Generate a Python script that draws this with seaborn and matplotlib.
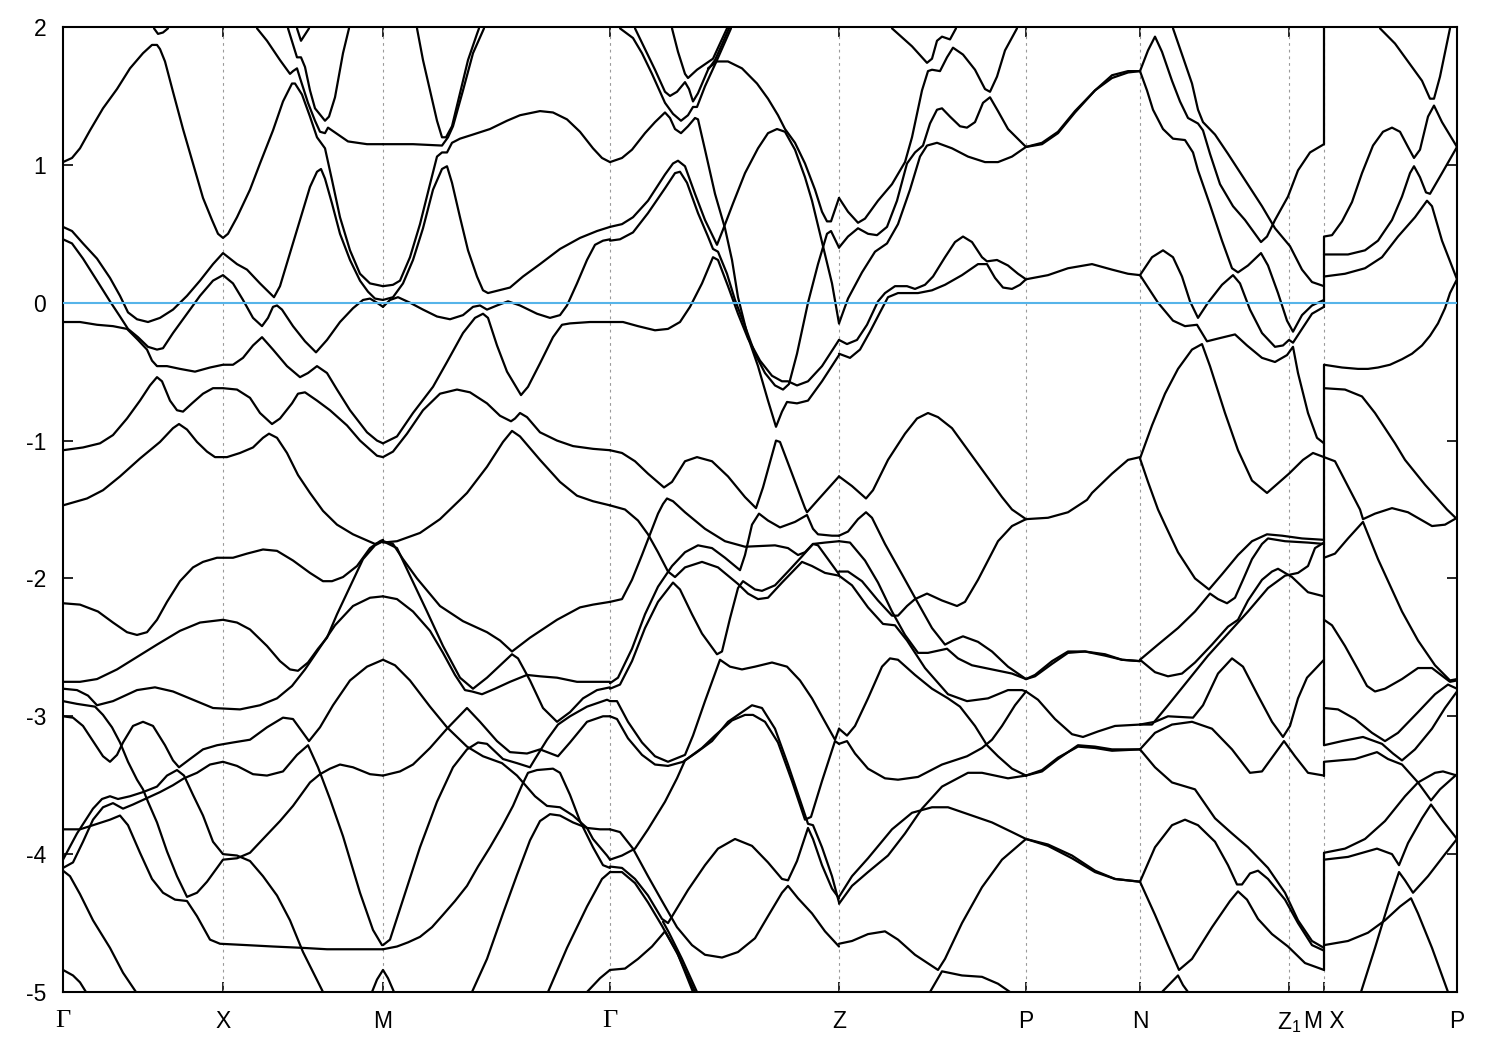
"""Structure de bandes le long du chemin Gamma-X-M-Gamma-Z-P-N-Z1-M|X-P."""

import matplotlib
matplotlib.use("Agg")
import matplotlib.pyplot as plt
import pandas as pd
import seaborn as sns

# positions des points de haute symétrie sur le chemin
tick_k = [0, 160, 320, 547, 776, 963, 1077, 1226, 1261, 1394]
tick_labels = ["Γ", "X", "M", "Γ", "Z", "P", "N", "Z$_1$", "M X", "P"]
y_ticks = [2, 1, 0, -1, -2, -3, -4, -5]

# --- Γ -> X -> M
b_gx01_k = [0,9,17,27,40,54,67,80,89,94,97,102,110,120,130,140,149,155,160,165,174,187,197,210,220,229,232,239,247,254,262,269,277,287,297,307,320]
b_gx01_e = [1.02,1.05,1.12,1.25,1.41,1.55,1.70,1.81,1.87,1.87,1.84,1.75,1.53,1.26,1.01,.76,.60,.50,.47,.50,.62,.82,1.01,1.25,1.46,1.59,1.59,1.51,1.35,1.20,1.12,.89,.62,.38,.21,.14,.12]
b_gx02_k = [194,204,217,227,230,234,237,245,252,257,262,265,275,285,304,320]
b_gx02_e = [1.99,1.90,1.76,1.66,1.68,1.70,1.63,1.45,1.32,1.24,1.23,1.27,1.22,1.17,1.15,1.15]
b_gx03_k = [225,234,238,242,247,252,262,266,272,280,286]
b_gx03_e = [1.99,1.78,1.78,1.71,1.54,1.41,1.32,1.35,1.49,1.81,1.99]
b_gx04_k = [234,238,246]
b_gx04_e = [1.99,1.90,1.99]
b_gx05_k = [91,95,100,105]
b_gx05_e = [1.99,1.95,1.96,1.99]
b_gx06_k = [0,9,20,34,47,57,65,74,85,97,110,124,137,150,160,174,184,197,211,217,227,237,247,254,258,262,269,277,287,297,305,312,320]
b_gx06_e = [.55,.52,.43,.32,.18,.05,-.07,-.12,-.14,-.11,-.05,.05,.16,.28,.36,.28,.24,.14,.04,.12,.36,.60,.84,.95,.97,.90,.72,.50,.31,.16,.08,.03,.02]
b_gx07_k = [0,9,20,34,47,57,65,75,85,94,100,110,124,137,150,160,170,180,190,199,205,210,214,219,230,242,253,264,277,290,300,307,314,320]
b_gx07_e = [.46,.43,.32,.16,.01,-.10,-.19,-.25,-.32,-.34,-.33,-.22,-.08,.05,.16,.20,.14,.02,-.11,-.17,-.11,-.03,-.02,-.05,-.17,-.28,-.36,-.27,-.14,-.04,.02,.03,.0,-.03]
b_gx08_k = [0,17,34,50,64,75,84,89,94,104,117,132,147,160,170,180,190,199,210,224,237,245,254,264,274,287,304,314,320]
b_gx08_e = [-.14,-.14,-.16,-.17,-.19,-.27,-.34,-.42,-.46,-.46,-.48,-.50,-.47,-.45,-.45,-.40,-.31,-.25,-.34,-.46,-.54,-.51,-.46,-.51,-.63,-.78,-.94,-1.00,-1.02]
b_gx09_k = [0,20,37,50,64,77,87,94,99,107,114,120,129,140,150,160,174,187,197,209,217,229,235,242,254,267,284,297,314,320]
b_gx09_e = [-1.07,-1.05,-1.02,-.96,-.84,-.71,-.60,-.54,-.57,-.71,-.78,-.79,-.73,-.66,-.62,-.62,-.63,-.69,-.80,-.88,-.84,-.73,-.66,-.65,-.71,-.78,-.89,-1.0,-1.11,-1.12]
b_gx10_k = [0,24,40,57,77,97,110,116,124,134,144,152,164,177,190,200,206,214,224,235,247,260,274,290,312,320]
b_gx10_e = [-1.47,-1.42,-1.36,-1.26,-1.13,-1.01,-.91,-.88,-.92,-1.01,-1.08,-1.12,-1.12,-1.09,-1.05,-.98,-.95,-.98,-1.09,-1.25,-1.38,-1.51,-1.61,-1.68,-1.75,-1.73]
b_gx11_k = [0,17,35,50,64,74,84,94,104,117,130,140,154,170,184,200,214,230,247,260,269,280,294,307,317,320]
b_gx11_e = [-2.18,-2.19,-2.24,-2.32,-2.39,-2.41,-2.39,-2.30,-2.17,-2.02,-1.92,-1.88,-1.85,-1.85,-1.82,-1.79,-1.80,-1.87,-1.96,-2.02,-2.02,-1.99,-1.91,-1.78,-1.73,-1.72]
b_gx12_k = [0,17,34,54,74,94,117,137,160,174,187,204,217,227,235,245,255,264,274,287,300,312,320]
b_gx12_e = [-2.75,-2.75,-2.73,-2.66,-2.57,-2.48,-2.38,-2.32,-2.30,-2.32,-2.37,-2.49,-2.60,-2.66,-2.67,-2.61,-2.51,-2.43,-2.26,-2.06,-1.86,-1.76,-1.73]
b_gx13_k = [0,14,25,34,50,74,92,110,130,150,177,197,214,229,242,257,272,290,307,320]
b_gx13_e = [-2.80,-2.81,-2.85,-2.92,-2.89,-2.81,-2.79,-2.82,-2.88,-2.94,-2.95,-2.92,-2.87,-2.78,-2.66,-2.50,-2.34,-2.20,-2.14,-2.13]
b_gx14_k = [0,14,32,40,49,57,65,74,80,85,94,104,114,124,134,144,154,160,174,187,200,217,230,247,257,267,277,290,307,320]
b_gx14_e = [-2.89,-2.91,-2.93,-2.99,-3.08,-3.19,-3.33,-3.46,-3.53,-3.62,-3.77,-3.98,-4.16,-4.31,-4.28,-4.20,-4.10,-4.04,-4.03,-3.99,-3.89,-3.76,-3.65,-3.48,-3.42,-3.38,-3.35,-3.37,-3.42,-3.43]
b_gx15_k = [0,10,20,30,40,47,54,60,70,80,90,102,110,116,127,140,154,170,187,204,220,230,239,246,257,270,287,304,320]
b_gx15_e = [-3.0,-3.01,-3.07,-3.18,-3.29,-3.33,-3.28,-3.19,-3.07,-3.04,-3.07,-3.21,-3.32,-3.37,-3.31,-3.24,-3.21,-3.19,-3.17,-3.08,-3.01,-3.02,-3.11,-3.18,-3.08,-2.92,-2.74,-2.64,-2.59]
b_gx16_k = [0,14,30,39,47,55,67,80,94,104,114,121,130,140,150,160,174,187,200,214,227,240,260]
b_gx16_e = [-4.04,-3.85,-3.67,-3.60,-3.58,-3.60,-3.58,-3.55,-3.51,-3.43,-3.39,-3.43,-3.57,-3.72,-3.91,-4.0,-4.01,-4.05,-4.16,-4.30,-4.48,-4.71,-5.0]
b_gx17_k = [0,10,20,30,40,50,60,70,82,97,110,121,134,147,160,174,190,204,220,234,245,255,267,280,297,310,319]
b_gx17_e = [-4.10,-4.06,-3.91,-3.75,-3.66,-3.63,-3.67,-3.64,-3.60,-3.55,-3.50,-3.45,-3.41,-3.35,-3.33,-3.36,-3.42,-3.43,-3.40,-3.28,-3.21,-3.37,-3.60,-3.87,-4.28,-4.55,-4.66]
b_gx18_k = [0,17,30,47,57,65,77,89,100,112,124,134,147,157,184,210,240,264,297,320]
b_gx18_e = [-3.82,-3.82,-3.79,-3.75,-3.72,-3.79,-3.99,-4.18,-4.28,-4.33,-4.34,-4.45,-4.62,-4.65,-4.66,-4.67,-4.68,-4.69,-4.69,-4.69]
b_gx19_k = [0,7,17,30,47,60,73]
b_gx19_e = [-4.12,-4.16,-4.29,-4.48,-4.68,-4.86,-5.0]
b_gx20_k = [0,10,17,23]
b_gx20_e = [-4.84,-4.88,-4.93,-5.0]
b_gx21_k = [309,314,320,325,331]
b_gx21_e = [-5.0,-4.91,-4.84,-4.90,-5.0]

# --- M -> Γ
b_mg01_k = [354,360,367,374,379,383,389,397,405,414,416]
b_mg01_e = [1.99,1.76,1.54,1.32,1.20,1.20,1.28,1.52,1.76,1.95,1.99]
b_mg02_k = [320,350,379,385,390,400,410,421]
b_mg02_e = [1.15,1.15,1.14,1.20,1.28,1.54,1.81,1.99]
b_mg03_k = [320,330,337,347,357,367,374,379,384,389,397,410,427,444,457,477,490,504,517,530,539,547]
b_mg03_e = [.12,.13,.16,.33,.57,.86,1.06,1.09,1.09,1.16,1.19,1.22,1.26,1.32,1.36,1.39,1.38,1.33,1.24,1.12,1.05,1.02]
b_mg04_k = [320,330,340,350,360,370,379,384,389,397,405,414,420,425,447,460,477,497,517,534,547]
b_mg04_e = [.02,.04,.14,.31,.54,.82,.97,.99,.87,.62,.38,.19,.09,.07,.11,.19,.28,.39,.47,.52,.55]
b_mg05_k = [320,327,335,347,360,374,387,400,410,417,424,434,445,457,474,487,497,504,514,524,532,540,547]
b_mg05_e = [-.03,.02,.04,0,-.05,-.10,-.12,-.09,-.03,-.02,-.05,-.02,.01,-.02,-.08,-.11,-.09,-.02,.14,.31,.42,.45,.46]
b_mg06_k = [320,334,350,370,384,400,412,420,425,434,444,458,465,477,490,499,507,527,547]
b_mg06_e = [-1.02,-.97,-.80,-.61,-.43,-.22,-.11,-.08,-.11,-.31,-.50,-.67,-.61,-.44,-.25,-.16,-.15,-.14,-.14]
b_mg07_k = [320,330,344,360,377,394,407,424,437,448,452,457,464,477,494,510,530,547]
b_mg07_e = [-1.12,-1.08,-.95,-.78,-.66,-.63,-.65,-.73,-.82,-.86,-.84,-.80,-.83,-.94,-1.0,-1.04,-1.06,-1.07]
b_mg08_k = [320,334,357,377,397,404,424,440,449,457,477,497,514,530,547]
b_mg08_e = [-1.74,-1.73,-1.67,-1.57,-1.43,-1.38,-1.19,-1.01,-.93,-.97,-1.14,-1.30,-1.40,-1.44,-1.47]
b_mg09_k = [320,330,340,354,377,400,424,437,449,467,494,517,530,547]
b_mg09_e = [-1.73,-1.75,-1.86,-2.0,-2.20,-2.31,-2.39,-2.45,-2.53,-2.43,-2.30,-2.21,-2.19,-2.17]
b_mg10_k = [320,334,347,364,380,397,410,424,449,455,467,480,494,507,520,534,547]
b_mg10_e = [-1.73,-1.78,-1.98,-2.24,-2.49,-2.72,-2.80,-2.72,-2.55,-2.58,-2.74,-2.94,-3.04,-2.97,-2.87,-2.81,-2.79]
b_mg11_k = [320,334,350,367,380,392,402,409,419,432,447,464,477,494,514,537,547]
b_mg11_e = [-2.13,-2.15,-2.24,-2.38,-2.54,-2.70,-2.81,-2.82,-2.84,-2.80,-2.75,-2.70,-2.71,-2.72,-2.75,-2.75,-2.75]
b_mg12_k = [320,332,347,367,384,404,420,439,454,472,484,497,510,524,537,547]
b_mg12_e = [-2.59,-2.63,-2.74,-2.93,-3.08,-3.22,-3.29,-3.34,-3.43,-3.58,-3.65,-3.66,-3.72,-3.81,-3.82,-3.82]
b_mg13_k = [320,337,350,367,384,404,417,434,447,464,477,495,507,524,540,547]
b_mg13_e = [-3.43,-3.40,-3.35,-3.23,-3.09,-2.94,-3.04,-3.18,-3.26,-3.27,-3.24,-3.29,-3.19,-3.04,-3.0,-3.0]
b_mg14_k = [320,327,340,357,374,390,404,415,424,440,454,467,472,484,495,507,524,544,547]
b_mg14_e = [-4.66,-4.62,-4.33,-3.95,-3.62,-3.37,-3.24,-3.19,-3.20,-3.31,-3.34,-3.37,-3.31,-3.17,-3.06,-3.0,-2.93,-2.88,-2.89]
b_mg15_k = [320,334,345,357,369,380,392,404,415,427,439,450,459,465,474,490,497,507,517,530,540,547]
b_mg15_e = [-4.69,-4.67,-4.64,-4.60,-4.53,-4.44,-4.34,-4.23,-4.09,-3.95,-3.80,-3.65,-3.50,-3.41,-3.39,-3.38,-3.41,-3.57,-3.76,-3.95,-4.08,-4.10]
b_mg16_k = [409,424,440,454,467,477,487,497,510,524,530,544,547]
b_mg16_e = [-5,-4.76,-4.43,-4.15,-3.90,-3.76,-3.71,-3.72,-3.77,-3.81,-3.89,-4.01,-4.04]
b_mg17_k = [485,504,524,539,547]
b_mg17_e = [-5,-4.68,-4.38,-4.18,-4.13]
b_mg18_k = [524,537,547]
b_mg18_e = [-5,-4.90,-4.84]

# --- Γ -> Z
b_gz01_k = [547,559,569,582,592,602,607,612,618,625,632,635,642,652,662,669,675,685,695,705,713,719,724,734,745,759,776]
b_gz01_e = [1.02,1.05,1.11,1.23,1.31,1.38,1.34,1.26,1.23,1.28,1.34,1.33,1.11,.79,.54,.31,.04,-.25,-.46,-.71,-.90,-.79,-.72,-.73,-.71,-.57,-.38]
b_gz02_k = [547,559,570,585,602,610,615,622,632,642,654,660,670,682,695,705,714,722,732,742,749,755,760,769,776]
b_gz02_e = [.55,.57,.62,.74,.93,1.01,1.03,.99,.79,.60,.42,.53,.72,.94,1.12,1.23,1.26,1.24,1.11,.91,.74,.56,.41,.14,-.15]
b_gz03_k = [547,557,570,585,602,612,617,624,635,645,650,655,664,672,682,692,702,712,720,726,734,745,755,764,768,776]
b_gz03_e = [.45,.46,.51,.65,.83,.94,.95,.87,.65,.48,.39,.37,.21,.02,-.17,-.37,-.51,-.60,-.63,-.59,-.37,.0,.28,.50,.52,.40]
b_gz04_k = [547,560,575,592,605,617,627,639,650,655,665,675,685,697,709,719,725,734,745,759,776]
b_gz04_e = [-.14,-.14,-.17,-.20,-.19,-.14,-.03,.14,.33,.31,.12,-.08,-.26,-.42,-.53,-.57,-.57,-.60,-.57,-.46,-.27]
b_gz05_k = [557,570,579,589,602,610,618,625,630,634,642,654,668]
b_gz05_e = [1.99,1.92,1.81,1.66,1.45,1.37,1.32,1.36,1.42,1.42,1.57,1.76,1.99]
b_gz06_k = [572,582,592,602,607,614,622,626,630,635,645,652,660,666]
b_gz06_e = [1.99,1.84,1.69,1.53,1.50,1.53,1.60,1.55,1.46,1.52,1.69,1.76,1.89,1.99]
b_gz07_k = [609,615,622,625,634,644,650,657,664]
b_gz07_e = [1.99,1.82,1.66,1.63,1.69,1.74,1.77,1.88,1.99]
b_gz08_k = [645,654,665,679,694,705,715,722,732,742,752,759,764,768,776]
b_gz08_e = [1.70,1.75,1.75,1.70,1.59,1.48,1.36,1.26,1.16,1.01,.82,.66,.59,.59,.76]
b_gz09_k = [547,559,572,585,601,609,622,634,649,665,682,693,700,713,717,729,742,744,755,776]
b_gz09_e = [-1.07,-1.09,-1.15,-1.24,-1.34,-1.30,-1.15,-1.12,-1.15,-1.26,-1.41,-1.49,-1.34,-1.0,-1.01,-1.24,-1.49,-1.52,-1.43,-1.26]
b_gz10_k = [547,562,575,585,595,605,612,622,639,655,675,685,695,705,719,739,749,762,776]
b_gz10_e = [-1.47,-1.50,-1.58,-1.68,-1.81,-1.95,-1.99,-1.92,-1.88,-1.92,-2.04,-2.11,-2.15,-2.14,-2.03,-1.88,-1.91,-1.96,-1.98]
b_gz11_k = [547,555,569,582,595,609,622,635,649,662,677,682,689,696,705,717,732,744,750,755,769,776]
b_gz11_e = [-2.76,-2.72,-2.51,-2.26,-2.06,-1.91,-1.81,-1.76,-1.78,-1.85,-1.94,-1.83,-1.61,-1.53,-1.58,-1.63,-1.59,-1.54,-1.64,-1.68,-1.69,-1.69]
b_gz12_k = [547,557,569,582,595,610,617,629,639,654,659,667,675,680,692,699,712,725,739,750,762,776]
b_gz12_e = [-2.80,-2.77,-2.60,-2.36,-2.17,-2.03,-2.08,-2.26,-2.40,-2.55,-2.53,-2.29,-2.07,-2.02,-2.08,-2.09,-2.05,-1.95,-1.84,-1.75,-1.74,-1.73]
b_gz13_k = [547,559,569,579,587,595,600,604,610,622,642,662,682,712,725,735,742,750,755,769,776]
b_gz13_e = [-2.17,-2.15,-2.01,-1.83,-1.68,-1.53,-1.46,-1.42,-1.44,-1.52,-1.64,-1.73,-1.77,-1.76,-1.78,-1.83,-1.81,-1.75,-1.76,-1.90,-1.97]
b_gz14_k = [547,554,565,579,592,605,622,630,642,657,667,679,692,709,724,737,749,762,772,776]
b_gz14_e = [-2.89,-2.89,-3.04,-3.19,-3.29,-3.33,-3.28,-3.14,-2.89,-2.59,-2.64,-2.66,-2.64,-2.61,-2.64,-2.74,-2.87,-3.04,-3.17,-3.09]
b_gz15_k = [547,554,565,579,592,605,620,634,649,665,679,689,699,712,725,739,745,750,759,769,776]
b_gz15_e = [-3.0,-3.02,-3.16,-3.28,-3.35,-3.36,-3.33,-3.26,-3.18,-3.04,-2.97,-2.92,-2.94,-3.09,-3.35,-3.65,-3.78,-3.79,-3.95,-4.16,-4.35]
b_gz16_k = [547,559,572,585,602,614,622,639,652,669,682,690,702,715,729,742,748,759,772,776]
b_gz16_e = [-4.04,-4.01,-3.96,-3.82,-3.62,-3.45,-3.32,-3.23,-3.14,-3.03,-2.99,-2.99,-3.04,-3.19,-3.47,-3.75,-3.73,-3.47,-3.18,-3.20]
b_gz17_k = [547,557,570,585,599,614,629,642,659,675,692,705,719,725,735,749,762,776]
b_gz17_e = [-3.82,-3.84,-3.96,-4.16,-4.34,-4.53,-4.66,-4.73,-4.75,-4.71,-4.61,-4.45,-4.28,-4.23,-4.32,-4.43,-4.56,-4.67]
b_gz18_k = [547,559,572,585,599,605,610,625,642,655,672,689,705,719,725,734,745,750,759,769,776]
b_gz18_e = [-4.09,-4.10,-4.18,-4.30,-4.47,-4.50,-4.44,-4.26,-4.08,-3.96,-3.89,-3.94,-4.06,-4.18,-4.19,-4.05,-3.81,-3.89,-4.08,-4.25,-4.32]
b_gz19_k = [547,559,572,585,599,615,632]
b_gz19_e = [-4.13,-4.13,-4.21,-4.35,-4.52,-4.73,-5.0]
b_gz20_k = [600,606,619,634]
b_gz20_e = [-4.49,-4.57,-4.76,-5.0]
b_gz21_k = [547,562,575,589,602,614,630]
b_gz21_e = [-4.84,-4.83,-4.76,-4.67,-4.56,-4.71,-5.0]

# --- Z -> P
b_zp01_k = [829,849,864,869,874,879,887,893]
b_zp01_e = [1.99,1.86,1.74,1.77,1.90,1.93,1.91,1.99]
b_zp02_k = [776,785,795,802,815,829,842,849,859,865,869,877,884,890,900,912,922,927,934,942,954]
b_zp02_e = [.76,.66,.58,.61,.74,.86,1.02,1.20,1.54,1.68,1.69,1.68,1.78,1.85,1.80,1.69,1.55,1.53,1.64,1.83,1.99]
b_zp03_k = [776,785,795,805,814,824,834,844,852,860,867,874,879,887,897,904,912,920,927,935,945,963]
b_zp03_e = [.40,.48,.54,.50,.49,.55,.74,1.01,1.09,1.14,1.30,1.40,1.41,1.35,1.28,1.27,1.31,1.45,1.49,1.39,1.26,1.13]
b_zp04_k = [776,785,799,812,824,835,847,857,864,874,889,905,922,935,949,963]
b_zp04_e = [-.15,.03,.22,.37,.43,.57,.82,1.06,1.14,1.16,1.12,1.06,1.02,1.02,1.06,1.13]
b_zp05_k = [776,784,794,804,815,822,832,844,852,862,870,882,892,900,909,919,924,934,945,955,963]
b_zp05_e = [-.27,-.30,-.27,-.16,.01,.07,.12,.12,.10,.13,.19,.33,.44,.48,.44,.33,.30,.31,.27,.21,.17]
b_zp06_k = [776,787,797,807,817,825,835,855,869,882,899,915,924,932,940,949,957,963]
b_zp06_e = [-.37,-.40,-.34,-.21,-.07,.04,.07,.07,.09,.13,.20,.28,.28,.18,.11,.10,.13,.17]
b_zp07_k = [776,789,803,810,825,842,854,865,875,889,905,922,939,949,963]
b_zp07_e = [-1.26,-1.33,-1.42,-1.36,-1.14,-.95,-.84,-.80,-.83,-.91,-1.07,-1.24,-1.41,-1.50,-1.57]
b_zp08_k = [776,785,795,803,809,822,839,852,869,882,890,900,915,929,945,963]
b_zp08_e = [-1.69,-1.66,-1.57,-1.52,-1.56,-1.75,-1.97,-2.14,-2.36,-2.48,-2.45,-2.42,-2.46,-2.53,-2.64,-2.73]
b_zp09_k = [776,787,802,815,829,842,855,865,884,895,909,929,949,963]
b_zp09_e = [-1.73,-1.74,-1.87,-2.03,-2.24,-2.41,-2.54,-2.54,-2.51,-2.58,-2.63,-2.66,-2.69,-2.73]
b_zp10_k = [776,785,799,815,829,835,844,852,864,879,894,902,915,935,949,963]
b_zp10_e = [-1.95,-1.95,-2.02,-2.16,-2.27,-2.27,-2.20,-2.15,-2.11,-2.16,-2.20,-2.17,-2.01,-1.73,-1.62,-1.57]
b_zp11_k = [776,789,805,820,832,844,862,885,904,925,945,959,963]
b_zp11_e = [-1.98,-2.05,-2.21,-2.33,-2.34,-2.45,-2.65,-2.84,-2.89,-2.87,-2.81,-2.81,-2.82]
b_zp12_k = [776,784,792,805,819,827,835,852,869,885,897,912,924,935,949,963]
b_zp12_e = [-3.09,-3.14,-3.07,-2.87,-2.64,-2.58,-2.59,-2.70,-2.80,-2.87,-2.93,-3.07,-3.21,-3.29,-3.38,-3.43]
b_zp13_k = [776,784,792,805,822,835,855,879,904,919,929,939,952,963]
b_zp13_e = [-3.20,-3.18,-3.27,-3.38,-3.45,-3.46,-3.44,-3.35,-3.29,-3.23,-3.17,-3.07,-2.92,-2.82]
b_zp14_k = [776,789,805,829,849,869,885,905,929,949,963]
b_zp14_e = [-4.31,-4.16,-4.03,-3.82,-3.70,-3.66,-3.66,-3.71,-3.77,-3.84,-3.89]
b_zp15_k = [776,789,805,825,842,859,879,905,919,945,963]
b_zp15_e = [-4.36,-4.23,-4.13,-4.01,-3.85,-3.67,-3.51,-3.41,-3.41,-3.45,-3.43]
b_zp16_k = [776,789,805,822,835,852,875,882,899,919,939,963]
b_zp16_e = [-4.65,-4.63,-4.58,-4.56,-4.62,-4.73,-4.84,-4.76,-4.50,-4.24,-4.04,-3.89]
b_zp17_k = [867,879,899,919,935,947]
b_zp17_e = [-5,-4.85,-4.88,-4.89,-4.94,-5]

# --- P -> N (bandes presque doubles)
b_pn01_k = [963,979,995,1012,1032,1049,1065,1077]
b_pn01_e = [1.13,1.16,1.24,1.39,1.54,1.63,1.67,1.68]
b_pn02_k = [963,979,995,1012,1032,1049,1065,1077]
b_pn02_e = [1.13,1.15,1.23,1.38,1.54,1.65,1.68,1.68]
b_pn03_k = [963,985,1005,1029,1049,1065,1077]
b_pn03_e = [.17,.20,.25,.28,.24,.21,.20]
b_pn04_k = [963,985,1005,1024,1029,1049,1065,1077]
b_pn04_e = [-1.57,-1.56,-1.52,-1.43,-1.38,-1.24,-1.14,-1.12]
b_pn05_k = [963,972,989,1005,1022,1042,1059,1077]
b_pn05_e = [-2.73,-2.70,-2.60,-2.53,-2.53,-2.56,-2.59,-2.60]
b_pn06_k = [963,972,989,1005,1022,1042,1059,1077]
b_pn06_e = [-2.73,-2.71,-2.62,-2.54,-2.53,-2.55,-2.59,-2.60]
b_pn07_k = [963,975,992,1009,1020,1035,1052,1077]
b_pn07_e = [-2.82,-2.88,-3.02,-3.13,-3.15,-3.11,-3.07,-3.06]
b_pn08_k = [963,979,995,1015,1032,1049,1077]
b_pn08_e = [-3.43,-3.40,-3.31,-3.21,-3.22,-3.24,-3.24]
b_pn09_k = [963,979,995,1015,1032,1049,1077]
b_pn09_e = [-3.43,-3.39,-3.30,-3.22,-3.23,-3.25,-3.24]
b_pn10_k = [963,985,1009,1032,1052,1077]
b_pn10_e = [-3.89,-3.94,-4.03,-4.13,-4.18,-4.20]
b_pn11_k = [963,985,1009,1032,1052,1077]
b_pn11_e = [-3.89,-3.93,-4.01,-4.12,-4.18,-4.20]

# --- N -> Z1 -> M
b_nm01_k = [1077,1085,1092,1099,1109,1117,1125,1135,1140,1147,1157,1170,1182,1198,1204,1212,1225,1235,1247,1261]
b_nm01_e = [1.68,1.83,1.93,1.82,1.61,1.46,1.34,1.30,1.25,1.08,.86,.70,.60,.44,.48,.60,.77,.96,1.09,1.15]
b_nm02_k = [1110,1120,1129,1135,1140,1152,1165,1182,1199,1212,1227,1239,1249,1261]
b_nm02_e = [1.99,1.78,1.59,1.40,1.31,1.22,1.08,.89,.70,.54,.41,.24,.15,.12]
b_nm03_k = [1077,1084,1090,1100,1110,1122,1130,1135,1147,1159,1169,1175,1185,1198,1205,1215,1224,1230,1239,1249,1261]
b_nm03_e = [1.68,1.54,1.40,1.26,1.19,1.18,1.09,.96,.71,.45,.25,.22,.27,.36,.27,.07,-.13,-.21,-.09,-.02,.02]
b_nm04_k = [1077,1089,1100,1110,1119,1127,1135,1145,1159,1170,1177,1187,1199,1212,1220,1226,1230,1239,1249,1261]
b_nm04_e = [.20,.33,.38,.33,.19,.01,-.11,0,.13,.20,.14,-.05,-.22,-.32,-.31,-.27,-.29,-.19,-.08,-.03]
b_nm05_k = [1077,1095,1110,1122,1134,1144,1155,1172,1184,1199,1212,1224,1230,1235,1245,1254,1261]
b_nm05_e = [.20,0,-.13,-.17,-.16,-.28,-.26,-.23,-.31,-.40,-.43,-.38,-.32,-.51,-.80,-.98,-1.02]
b_nm06_k = [1077,1089,1102,1115,1129,1139,1147,1162,1175,1189,1204,1226,1240,1250,1261]
b_nm06_e = [-1.13,-.89,-.66,-.48,-.34,-.30,-.46,-.80,-1.07,-1.29,-1.38,-1.24,-1.14,-1.09,-1.12]
b_nm07_k = [1077,1085,1095,1102,1115,1132,1146,1159,1175,1189,1204,1219,1239,1261]
b_nm07_e = [-1.13,-1.30,-1.50,-1.61,-1.81,-2.0,-2.08,-1.97,-1.83,-1.73,-1.68,-1.69,-1.71,-1.72]
b_nm08_k = [1077,1095,1115,1132,1147,1155,1164,1172,1180,1189,1199,1205,1222,1245,1261]
b_nm08_e = [-2.59,-2.48,-2.36,-2.24,-2.11,-2.15,-2.18,-2.14,-2.01,-1.86,-1.75,-1.71,-1.73,-1.74,-1.75]
b_nm09_k = [1077,1092,1105,1119,1132,1149,1165,1175,1185,1199,1209,1215,1229,1245,1261]
b_nm09_e = [-2.59,-2.68,-2.71,-2.69,-2.61,-2.48,-2.35,-2.30,-2.16,-2.01,-1.95,-1.93,-1.99,-2.10,-2.13]
b_nm10_k = [1077,1089,1105,1125,1145,1165,1185,1205,1222,1235,1245,1252,1261]
b_nm10_e = [-3.06,-3.06,-2.92,-2.74,-2.56,-2.40,-2.24,-2.07,-1.98,-1.96,-1.91,-1.78,-1.74]
b_nm11_k = [1077,1092,1105,1130,1140,1155,1169,1180,1195,1209,1220,1227,1235,1244,1261]
b_nm11_e = [-3.06,-3.04,-3.0,-3.01,-2.92,-2.69,-2.58,-2.64,-2.85,-3.04,-3.15,-3.07,-2.87,-2.72,-2.59]
b_nm12_k = [1077,1092,1109,1129,1149,1169,1187,1199,1212,1221,1232,1245,1261]
b_nm12_e = [-3.24,-3.12,-3.06,-3.04,-3.09,-3.24,-3.41,-3.40,-3.27,-3.18,-3.29,-3.41,-3.43]
b_nm13_k = [1077,1092,1109,1132,1152,1169,1185,1205,1222,1235,1249,1261]
b_nm13_e = [-3.24,-3.37,-3.48,-3.53,-3.74,-3.85,-3.95,-4.10,-4.28,-4.48,-4.63,-4.68]
b_nm14_k = [1077,1092,1109,1122,1135,1152,1165,1174,1179,1187,1195,1205,1222,1235,1249,1261]
b_nm14_e = [-4.20,-3.95,-3.79,-3.75,-3.79,-3.91,-4.08,-4.22,-4.22,-4.14,-4.12,-4.18,-4.33,-4.50,-4.66,-4.70]
b_nm15_k = [1077,1092,1105,1116,1129,1149,1167,1175,1184,1195,1209,1225,1242,1261]
b_nm15_e = [-4.20,-4.44,-4.66,-4.84,-4.76,-4.53,-4.34,-4.27,-4.33,-4.47,-4.58,-4.67,-4.79,-4.84]
b_nm16_k = [1099,1115,1120,1125]
b_nm16_e = [-5,-4.88,-4.95,-5]

# --- sauts verticaux M | X
b_sa01_k = [1261,1261]
b_sa01_e = [2.0,1.15]
b_sa02_k = [1261,1261]
b_sa02_e = [.48,-.03]
b_sa03_k = [1261,1261]
b_sa03_e = [-.45,-3.21]
b_sa04_k = [1261,1261]
b_sa04_e = [-3.33,-3.43]
b_sa05_k = [1261,1261]
b_sa05_e = [-3.99,-4.84]

# --- X -> P
b_xp01_k = [1317,1332,1345,1359,1367,1371,1377,1387]
b_xp01_e = [1.99,1.88,1.75,1.61,1.48,1.48,1.64,1.99]
b_xp02_k = [1261,1269,1279,1289,1299,1310,1320,1329,1337,1345,1351,1357,1365,1371,1379,1394]
b_xp02_e = [.48,.49,.59,.73,.94,1.14,1.24,1.27,1.24,1.13,1.05,1.11,1.35,1.43,1.31,1.13]
b_xp03_k = [1261,1285,1302,1315,1329,1339,1347,1351,1357,1363,1367,1379,1394]
b_xp03_e = [.35,.35,.38,.45,.60,.77,.94,.99,.91,.80,.79,.94,1.13]
b_xp04_k = [1261,1282,1302,1319,1335,1352,1364,1369,1379,1394]
b_xp04_e = [.19,.21,.25,.33,.48,.62,.74,.70,.45,.17]
b_xp05_k = [1261,1279,1295,1305,1315,1327,1339,1349,1359,1367,1375,1382,1387,1394]
b_xp05_e = [-.45,-.47,-.48,-.48,-.47,-.45,-.41,-.37,-.31,-.24,-.15,-.04,.07,.17]
b_xp06_k = [1261,1282,1299,1312,1332,1342,1362,1384,1394]
b_xp06_e = [-.62,-.63,-.68,-.80,-1.02,-1.14,-1.32,-1.50,-1.57]
b_xp07_k = [1261,1272,1282,1297,1300,1312,1329,1345,1369,1382,1394]
b_xp07_e = [-1.12,-1.15,-1.29,-1.50,-1.57,-1.53,-1.49,-1.52,-1.62,-1.61,-1.56]
b_xp08_k = [1261,1272,1285,1300,1315,1339,1355,1372,1387,1394]
b_xp08_e = [-1.85,-1.82,-1.71,-1.59,-1.86,-2.24,-2.45,-2.63,-2.74,-2.73]
b_xp09_k = [1261,1269,1282,1295,1304,1312,1322,1339,1355,1369,1387,1394]
b_xp09_e = [-2.30,-2.34,-2.49,-2.66,-2.78,-2.82,-2.80,-2.73,-2.65,-2.65,-2.75,-2.74]
b_xp10_k = [1261,1275,1292,1309,1322,1335,1355,1372,1385,1394]
b_xp10_e = [-2.94,-2.95,-3.02,-3.12,-3.18,-3.12,-2.97,-2.84,-2.77,-2.80]
b_xp11_k = [1261,1279,1300,1319,1330,1339,1352,1369,1382,1394]
b_xp11_e = [-3.21,-3.18,-3.15,-3.20,-3.27,-3.32,-3.24,-3.09,-2.94,-2.82]
b_xp12_k = [1261,1292,1314,1325,1339,1355,1368,1377,1394]
b_xp12_e = [-3.33,-3.31,-3.26,-3.31,-3.35,-3.48,-3.61,-3.53,-3.42]
b_xp13_k = [1261,1282,1302,1322,1342,1355,1372,1380,1394]
b_xp13_e = [-3.99,-3.96,-3.89,-3.76,-3.58,-3.48,-3.41,-3.40,-3.43]
b_xp14_k = [1261,1285,1314,1329,1336,1345,1359,1368,1380,1394]
b_xp14_e = [-4.04,-4.02,-3.96,-4.0,-4.08,-3.92,-3.74,-3.64,-3.76,-3.89]
b_xp15_k = [1261,1285,1305,1322,1337,1348,1355,1369,1385]
b_xp15_e = [-4.66,-4.63,-4.57,-4.48,-4.38,-4.32,-4.43,-4.68,-5]
b_xp16_k = [1298,1312,1325,1336,1342,1350,1365,1382,1394]
b_xp16_e = [-5,-4.68,-4.37,-4.13,-4.19,-4.28,-4.16,-4.0,-3.89]


def table_bandes() -> pd.DataFrame:
    """Rassemble tous les segments b_*_k / b_*_e dans une table longue."""
    noms = [n[:-2] for n in list(globals()) if n.startswith("b_") and n.endswith("_k")]
    morceaux = []
    for nom in noms:
        morceaux.append(pd.DataFrame({
            "k": globals()[nom + "_k"],
            "E": globals()[nom + "_e"],
            "bande": nom,
        }))
    return pd.concat(morceaux, ignore_index=True)


sns.set_style("white")
plt.rcParams["font.family"] = ["Liberation Sans", "DejaVu Sans"]
plt.rcParams["axes.unicode_minus"] = False
plt.rcParams["mathtext.fontset"] = "custom"
plt.rcParams["mathtext.rm"] = "Liberation Sans"
plt.rcParams["mathtext.default"] = "regular"

fig = plt.figure(figsize=(15, 10.5), dpi=100)
ax = fig.add_axes([63 / 1500, 1 - 992 / 1050, 1394 / 1500, 965 / 1050])

for pos in tick_k[1:-1]:
    ax.axvline(pos, color="#9a9a9a", lw=0.8, ls=(0, (2.5, 3.5)), zorder=1)

sns.lineplot(
    data=table_bandes(), x="k", y="E", units="bande", estimator=None, sort=False,
    color="black", lw=1.6, legend=False, ax=ax, zorder=2,
)
ax.axhline(0, color="#56B4E9", lw=1.5, zorder=3)

ax.set_xlim(0, 1394)
ax.set_ylim(-5, 2)
ax.set_xlabel("")
ax.set_ylabel("")
ax.set_xticks(tick_k)
ax.set_xticklabels(tick_labels)
ax.set_yticks(y_ticks)
ax.set_yticklabels([str(v) for v in y_ticks])
ax.tick_params(axis="x", direction="in", length=7.5, width=1.2, top=True, bottom=True,
               labelsize=16.5, pad=13, color="black", labelcolor="black")
ax.tick_params(axis="y", direction="in", length=7.5, width=1.2, left=True, right=True,
               labelsize=16.5, pad=12, color="black", labelcolor="black")
for lab in ax.get_xticklabels():
    if lab.get_text() == "Γ":
        lab.set_family("Liberation Serif")
        lab.set_fontsize(19)
for spine in ax.spines.values():
    spine.set_visible(True)
    spine.set_color("black")
    spine.set_linewidth(1.5)

fig.savefig("out.png", dpi=100, facecolor="white")
plt.close(fig)
